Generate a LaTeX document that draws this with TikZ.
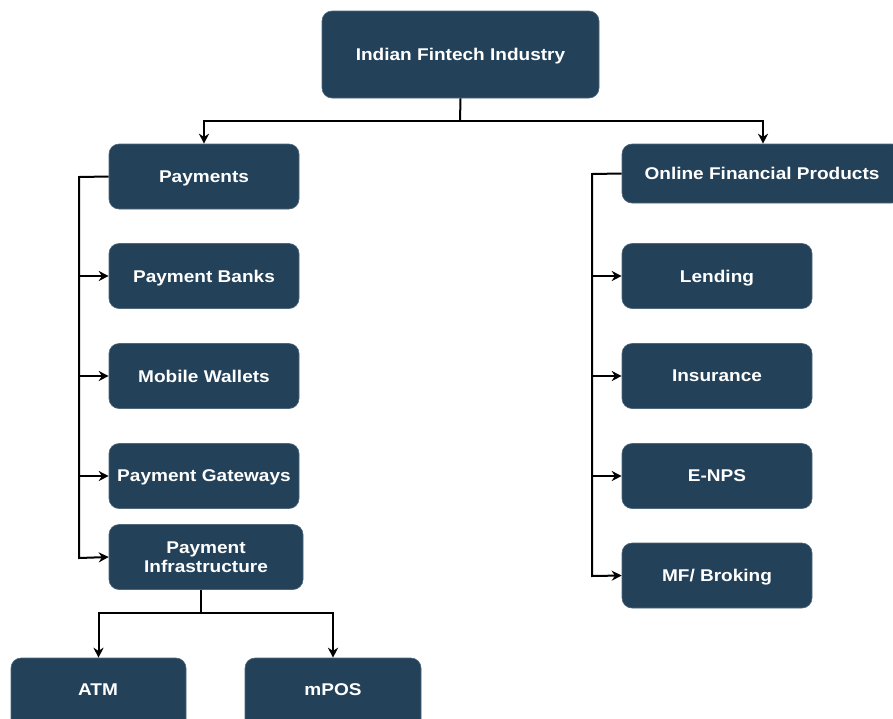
\documentclass[tikz,border=0pt]{standalone}
\usepackage{fontspec}
\setmainfont{Liberation Sans}[FakeStretch=1.12]
\usetikzlibrary{arrows.meta}
\definecolor{boxblue}{HTML}{234159}
\tikzset{
  boxfont/.style={font=\bfseries\fontsize{17}{19}\selectfont},
  box/.style={draw=boxblue!80!white, line width=0.6pt, fill=boxblue, rounded corners=10pt,
    text=white, boxfont, align=center, inner sep=0pt, text depth=0pt},
  conn/.style={line width=2pt, black},
  arr/.style={conn, -{Stealth[length=10pt,width=10pt]}}
}
\begin{document}
\begin{tikzpicture}[x=1pt,y=-1pt]
\useasboundingbox (0,0) rectangle (893,718);
% nodes
\node[box, minimum width=277, minimum height=87] (top) at (460.5,54.5) {Indian Fintech Industry};
\node[box, minimum width=190, minimum height=65] (pay) at (204,176.5) {Payments};
\node[box, minimum width=190, minimum height=65] (pb) at (204,276) {Payment Banks};
\node[box, minimum width=190, minimum height=65] (mw) at (204,376) {Mobile Wallets};
\node[box, minimum width=190, minimum height=65] (pg) at (204,476) {Payment Gateways};
\node[box, minimum width=194, minimum height=65] (pi) at (206,557) {Payment\\Infrastructure};
\node[box, minimum width=175, minimum height=80] (atm) at (98.5,698) {};
\node[anchor=center, text=white, boxfont] (atmt) at (98,690) {ATM};
\node[box, minimum width=176, minimum height=80] (mpos) at (333,698) {};
\node[anchor=center, text=white, boxfont] (mpost) at (333,690) {mPOS};
\node[box, minimum width=280, minimum height=59] (ofp) at (762,173.5) {Online Financial Products};
\node[box, minimum width=190, minimum height=65] (len) at (717,276) {Lending};
\node[box, minimum width=190, minimum height=65] (ins) at (717,376) {Insurance};
\node[box, minimum width=190, minimum height=65] (enps) at (717,476) {E-NPS};
\node[box, minimum width=190, minimum height=65] (mf) at (717,575.5) {MF/ Broking};
% coordinates
\coordinate (tj) at (460,121);
% top connectors
\draw[conn] (top.south) -- (tj);
\draw[arr] (tj) -| (pay.north);
\draw[arr] (tj) -| (ofp.north -| 763,0);
% left bus
\coordinate (lb) at (79,177);
\draw[conn] (pay.west) -- (lb) -- (79,558);
\draw[arr] (79,276) -- (pb.west);
\draw[arr] (79,376) -- (mw.west);
\draw[arr] (79,476) -- (pg.west);
\draw[arr] (79,557) -- (79,558) -- (pi.west);
% right bus
\coordinate (rb) at (592,174);
\draw[conn] (ofp.west) -- (rb) -- (592,576);
\draw[arr] (592,276) -- (len.west);
\draw[arr] (592,376) -- (ins.west);
\draw[arr] (592,476) -- (enps.west);
\draw[arr] (592,575) -- (592,576) -- (mf.west);
% PI to ATM / mPOS
\coordinate (pj) at (201,613);
\draw[conn] (pi.south -| 201,0) -- (pj);
\draw[arr] (pj) -| (atm.north);
\draw[arr] (pj) -| (mpos.north);
\end{tikzpicture}
\end{document}
